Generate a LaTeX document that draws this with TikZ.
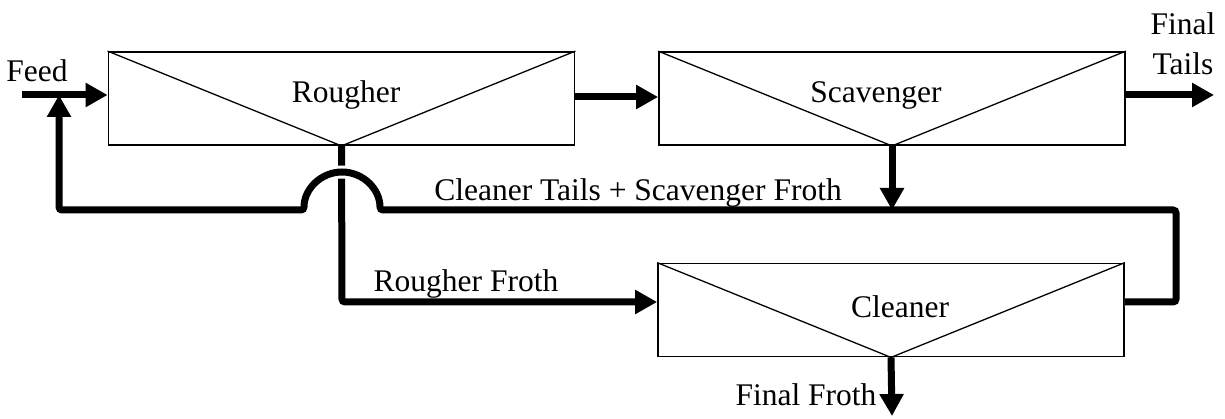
\documentclass[tikz,border=0pt]{standalone}
\usepackage{fontspec}
\setmainfont{Liberation Serif}
\usetikzlibrary{arrows.meta,calc}
\begin{document}
\begin{tikzpicture}[x=1pt,y=-1pt,
  cell/.style={draw,line width=1.8pt,rectangle,inner sep=0pt,minimum width=466pt,minimum height=93pt},
  thin/.style={line width=1.3pt},
  flow/.style={line width=7pt,rounded corners=3pt,-{Triangle[length=22pt,width=23pt]}},
  lbl/.style={font=\fontsize{31.5}{34}\selectfont,inner sep=0pt,anchor=base}]
\useasboundingbox (0,0) rectangle (1225,419);
% units
\node[cell] (R) at (341.5,98.5) {};
\node[cell] (S) at (892,98.5) {};
\node[cell] (C) at (891,310) {};
\draw[thin] (R.north west) -- (R.south) -- (R.north east);
\draw[thin] (S.north west) -- (S.south) -- (S.north east);
\draw[thin] (C.north west) -- (C.south) -- (C.north east);
\node[lbl] at (346,103) {Rougher};
\node[lbl] at (876,103) {Scavenger};
\node[lbl] at (900,317) {Cleaner};
% coordinates
\coordinate (feedin) at (22,95);
\coordinate (mix) at (59,95);
\coordinate (jn) at (892,210);
\coordinate (tailsout) at (1214,95);
\coordinate (frothout) at (892,416);
% rougher froth
\draw[flow] (R.south) -- (342,302) -- (C.west |- 0,302);
% cleaner tails + scavenger froth recycle
\draw[flow,preaction={draw=white,line width=13pt,-}] ($(C.east)+(0,-8)$) -- (1176,302) -- (1176,210) -- (380,210)
   arc[start angle=0,end angle=180,radius=38pt] -- (59,210) -- (mix);
% feed
\draw[flow] (feedin) -- (feedin -| R.west);
% rougher tails to scavenger
\draw[flow] (R.east |- 0,97) -- (S.west |- 0,97);
% scavenger froth
\draw[flow] (S.south) -- (jn);
% final tails
\draw[flow] (S.east |- tailsout) -- (tailsout);
% final froth
\draw[flow] (C.south) -- (frothout);
% labels
\node[lbl] at (37,82) {Feed};
\node[lbl] at (1183,35) {Final};
\node[lbl] at (1183,75) {Tails};
\node[lbl] at (638,201) {Cleaner Tails + Scavenger Froth};
\node[lbl] at (466,292) {Rougher Froth};
\node[lbl] at (806,405) {Final Froth};
\end{tikzpicture}
\end{document}
